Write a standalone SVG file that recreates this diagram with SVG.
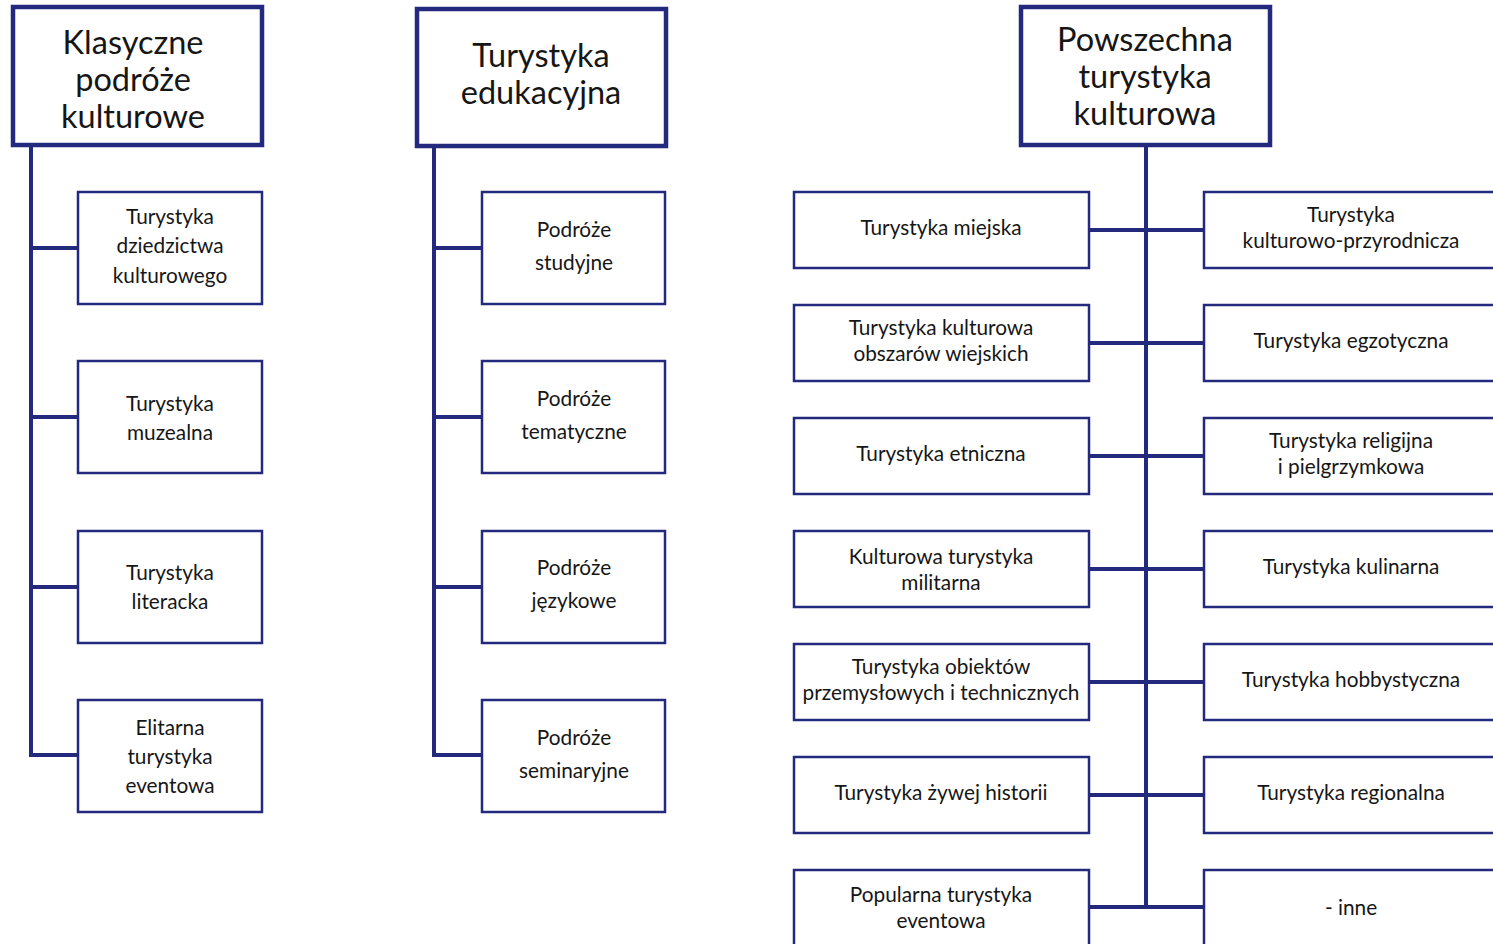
<svg xmlns="http://www.w3.org/2000/svg" width="1493" height="944" viewBox="0 0 1493 944">
<style>
.hdr{fill:#fff;stroke:#232a7e;stroke-width:4.5}
.box{fill:#fff;stroke:#232a7e;stroke-width:2.5}
.ln{stroke:#232a7e;stroke-width:4;fill:none}
text{font-family:Lato,"Open Sans","Liberation Sans",sans-serif;fill:#161616;text-anchor:middle}
.ht{font-size:32.5px}
.ct{font-size:20.8px}
</style>
<rect width="1493" height="944" fill="#fff"/>
<g id="connectors">
<path class="ln" d="M31 145V755H78M31 248H78M31 417H78M31 587H78"/>
<path class="ln" d="M434 146V755H482M434 248H482M434 417H482M434 587H482"/>
<path class="ln" d="M1146 146V907M1089 230H1204M1089 343H1204M1089 456H1204M1089 569H1204M1089 682H1204M1089 795H1204M1089 907H1204"/>
</g>
<g id="h1"><rect class="hdr" x="13" y="7" width="249" height="138"/>
<text class="ht" x="133" y="54">Klasyczne</text><text class="ht" x="133" y="91">podróże</text><text class="ht" x="133" y="128">kulturowe</text></g>
<g id="h2"><rect class="hdr" x="417" y="9" width="249" height="137"/>
<text class="ht" x="541" y="67">Turystyka</text><text class="ht" x="541" y="104">edukacyjna</text></g>
<g id="h3"><rect class="hdr" x="1021" y="7" width="249" height="138"/>
<text class="ht" x="1145" y="51">Powszechna</text><text class="ht" x="1145" y="88">turystyka</text><text class="ht" x="1145" y="125">kulturowa</text></g>

<g id="l1"><rect class="box" x="78" y="192" width="184" height="112"/>
<text class="ct" x="170" y="224">Turystyka</text><text class="ct" x="170" y="253">dziedzictwa</text><text class="ct" x="170" y="283">kulturowego</text></g>
<g id="l2"><rect class="box" x="78" y="361" width="184" height="112"/>
<text class="ct" x="170" y="411">Turystyka</text><text class="ct" x="170" y="440">muzealna</text></g>
<g id="l3"><rect class="box" x="78" y="531" width="184" height="112"/>
<text class="ct" x="170" y="580">Turystyka</text><text class="ct" x="170" y="609">literacka</text></g>
<g id="l4"><rect class="box" x="78" y="700" width="184" height="112"/>
<text class="ct" x="170" y="735">Elitarna</text><text class="ct" x="170" y="764">turystyka</text><text class="ct" x="170" y="793">eventowa</text></g>

<g id="m1"><rect class="box" x="482" y="192" width="183" height="112"/>
<text class="ct" x="574" y="237">Podróże</text><text class="ct" x="574" y="270">studyjne</text></g>
<g id="m2"><rect class="box" x="482" y="361" width="183" height="112"/>
<text class="ct" x="574" y="406">Podróże</text><text class="ct" x="574" y="439">tematyczne</text></g>
<g id="m3"><rect class="box" x="482" y="531" width="183" height="112"/>
<text class="ct" x="574" y="575">Podróże</text><text class="ct" x="574" y="608">językowe</text></g>
<g id="m4"><rect class="box" x="482" y="700" width="183" height="112"/>
<text class="ct" x="574" y="745">Podróże</text><text class="ct" x="574" y="778">seminaryjne</text></g>

<g id="r1"><rect class="box" x="794" y="192" width="295" height="76"/><text class="ct" x="941" y="235">Turystyka miejska</text></g>
<g id="r2"><rect class="box" x="794" y="305" width="295" height="76"/><text class="ct" x="941" y="335">Turystyka kulturowa</text><text class="ct" x="941" y="361">obszarów wiejskich</text></g>
<g id="r3"><rect class="box" x="794" y="418" width="295" height="76"/><text class="ct" x="941" y="461">Turystyka etniczna</text></g>
<g id="r4"><rect class="box" x="794" y="531" width="295" height="76"/><text class="ct" x="941" y="564">Kulturowa turystyka</text><text class="ct" x="941" y="590">militarna</text></g>
<g id="r5"><rect class="box" x="794" y="644" width="295" height="76"/><text class="ct" x="941" y="674">Turystyka obiektów</text><text class="ct" x="941" y="700">przemysłowych i technicznych</text></g>
<g id="r6"><rect class="box" x="794" y="757" width="295" height="76"/><text class="ct" x="941" y="800">Turystyka żywej historii</text></g>
<g id="r7"><rect class="box" x="794" y="870" width="295" height="80"/><text class="ct" x="941" y="902">Popularna turystyka</text><text class="ct" x="941" y="928">eventowa</text></g>

<g id="s1"><rect class="box" x="1204" y="192" width="300" height="76"/><text class="ct" x="1351" y="222">Turystyka</text><text class="ct" x="1351" y="248">kulturowo-przyrodnicza</text></g>
<g id="s2"><rect class="box" x="1204" y="305" width="300" height="76"/><text class="ct" x="1351" y="348">Turystyka egzotyczna</text></g>
<g id="s3"><rect class="box" x="1204" y="418" width="300" height="76"/><text class="ct" x="1351" y="448">Turystyka religijna</text><text class="ct" x="1351" y="474">i pielgrzymkowa</text></g>
<g id="s4"><rect class="box" x="1204" y="531" width="300" height="76"/><text class="ct" x="1351" y="574">Turystyka kulinarna</text></g>
<g id="s5"><rect class="box" x="1204" y="644" width="300" height="76"/><text class="ct" x="1351" y="687">Turystyka hobbystyczna</text></g>
<g id="s6"><rect class="box" x="1204" y="757" width="300" height="76"/><text class="ct" x="1351" y="800">Turystyka regionalna</text></g>
<g id="s7"><rect class="box" x="1204" y="870" width="300" height="80"/><text class="ct" x="1351" y="915">- inne</text></g>
</svg>
